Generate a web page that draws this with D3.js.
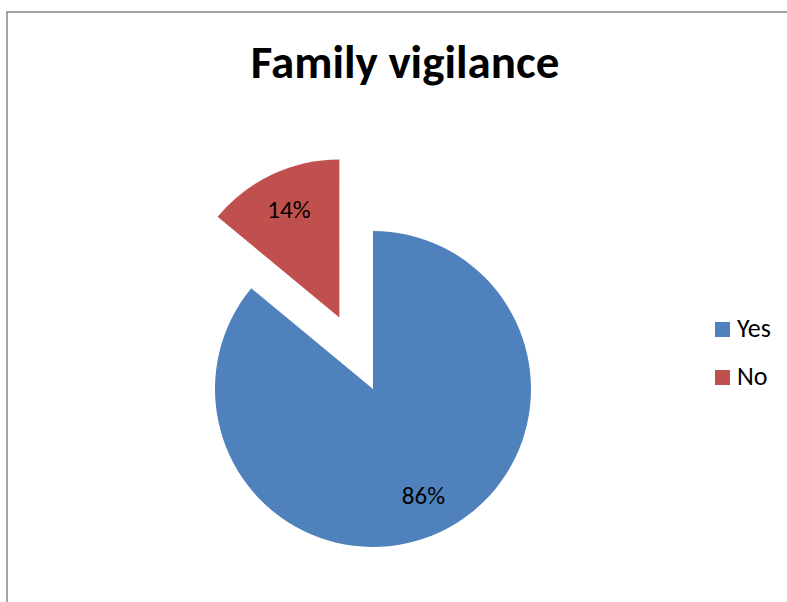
<!DOCTYPE html>
<html>
<head>
<meta charset="utf-8">
<script src="https://cdn.jsdelivr.net/npm/d3@7"></script>
<style>
  body { margin: 0; background: #fff; }
  text { font-family: Carlito, Calibri, "Open Sans", sans-serif; }
</style>
</head>
<body>
<div id="chart"></div>
<script>
const categories = ['Yes', 'No'];
const values = [86, 14];
const colors = ['#4F81BD', '#C0504D'];
const exploded = [false, true];

const width = 787,
      height = 602,
      cx = 373,
      cy = 389,
      radius = 158,
      explodeBy = 79;

const svg = d3.select('#chart').append('svg')
  .attr('width', width)
  .attr('height', height);

// chart border (runs off the right and bottom edges)
svg.append('rect')
  .attr('x', 7).attr('y', 12)
  .attr('width', width + 10).attr('height', height + 10)
  .attr('fill', 'none')
  .attr('stroke', '#868686')
  .attr('stroke-width', 1.5);

svg.append('text')
  .attr('x', 405).attr('y', 78)
  .attr('text-anchor', 'middle')
  .attr('font-size', 47)
  .attr('font-weight', 'bold')
  .text('Family vigilance');

const pie = d3.pie().sort(null).value(d => d);
const arcs = pie(values);
const arc = d3.arc().innerRadius(0).outerRadius(radius);
const labelArc = d3.arc().innerRadius(radius * 0.75).outerRadius(radius * 0.75);

const g = svg.append('g').attr('transform', `translate(${cx},${cy})`);

const slice = g.selectAll('g.slice')
  .data(arcs)
  .enter()
  .append('g')
  .attr('class', 'slice')
  .attr('transform', (d, i) => {
    if (!exploded[i]) return null;
    const mid = (d.startAngle + d.endAngle) / 2;
    return `translate(${Math.sin(mid) * explodeBy},${-Math.cos(mid) * explodeBy})`;
  });

slice.append('path')
  .attr('d', arc)
  .attr('fill', (d, i) => colors[i]);

slice.append('text')
  .attr('transform', d => `translate(${labelArc.centroid(d)})`)
  .attr('text-anchor', 'middle')
  .attr('dy', '0.3em')
  .attr('font-size', 25)
  .text(d => d.data + '%');

// legend
const legend = svg.selectAll('g.legend')
  .data(categories)
  .enter()
  .append('g')
  .attr('class', 'legend')
  .attr('transform', (d, i) => `translate(715,${322 + i * 48})`);

legend.append('rect')
  .attr('width', 15).attr('height', 15)
  .attr('fill', (d, i) => colors[i]);

legend.append('text')
  .attr('x', 22).attr('y', 15)
  .attr('font-size', 26)
  .text(d => d);
</script>
</body>
</html>
